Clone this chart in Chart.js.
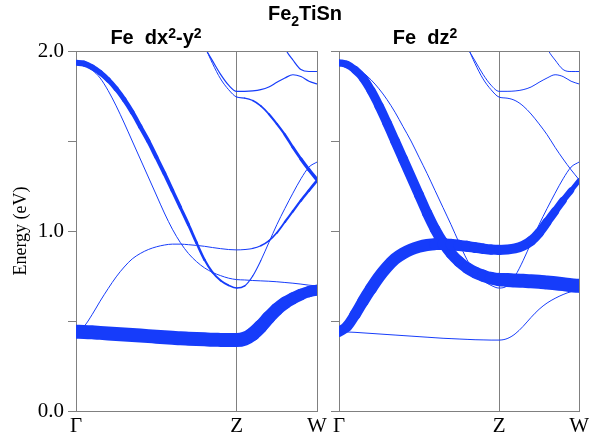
<!DOCTYPE html>
<html><head><meta charset="utf-8">
<script src="https://cdn.jsdelivr.net/npm/chart.js@4.4.1/dist/chart.umd.min.js"></script>
<style>
html,body{margin:0;padding:0;background:#fff;}
#wrap{position:relative;width:592px;height:437px;overflow:hidden;background:#fff;}
.t{position:absolute;font-family:'Liberation Sans',Arial,sans-serif;font-weight:bold;color:#000;text-align:center;white-space:pre;line-height:20px;font-size:20px;}
.sp{font-size:14px;position:relative;top:-6px;}
canvas{position:absolute;top:0;}
</style></head><body>
<div id="wrap">
<canvas id="c1" width="335" height="437" style="left:0;width:335px;height:437px"></canvas>
<canvas id="c2" width="270" height="437" style="left:322px;width:270px;height:437px"></canvas>
<div class="t" style="left:205px;width:200px;top:3px;">Fe<span style="font-size:14px;position:relative;top:6px">2</span>TiSn</div>
<div class="t" style="left:56px;width:200px;top:27px;">Fe  dx<span class="sp">2</span>-y<span class="sp">2</span></div>
<div class="t" style="left:325px;width:200px;top:27px;">Fe  dz<span class="sp">2</span></div>
</div>
<script>
// k-path positions: Γ = 0, Z = 1, W = 1.5
const kTicks = [0, 1, 1.5];
const kLabels = ['Γ', 'Z', 'W'];
const yTicksShown = [0, 1, 2];

const kGrid = [0,0.05,0.1,0.15,0.2,0.25,0.3,0.35,0.4,0.45,0.5,0.55,0.6,0.65,0.7,0.75,0.8,0.85,0.9,0.95,1.0,1.05,1.1,1.15,1.2,1.25,1.3,1.35,1.4,1.45,1.5];
const kUpper = [0.8,0.85,0.9,0.95,1.0,1.05,1.1,1.15,1.2,1.25,1.3,1.35,1.4,1.45,1.5];
const kTop = [1.28,1.31,1.35,1.4,1.45,1.5];

// band energies (eV)
const band1 = [0.44,0.439,0.437,0.434,0.431,0.428,0.425,0.422,0.419,0.416,0.413,0.41,0.407,0.404,0.402,0.4,0.398,0.396,0.395,0.394,0.394,0.402,0.428,0.47,0.52,0.565,0.60,0.626,0.647,0.663,0.672];
const band2 = [0.44,0.47,0.535,0.61,0.68,0.745,0.80,0.845,0.875,0.897,0.912,0.922,0.927,0.927,0.924,0.92,0.915,0.908,0.902,0.897,0.895,0.897,0.903,0.918,0.945,0.99,1.05,1.11,1.17,1.225,1.28];
const band3 = [1.935,1.93,1.91,1.88,1.84,1.79,1.73,1.66,1.58,1.50,1.41,1.32,1.225,1.13,1.035,0.935,0.84,0.77,0.725,0.698,0.683,0.695,0.75,0.835,0.935,1.035,1.125,1.21,1.29,1.355,1.383];
const band4 = [1.935,1.925,1.895,1.85,1.78,1.695,1.60,1.50,1.40,1.30,1.20,1.10,1.01,0.935,0.875,0.83,0.795,0.77,0.752,0.738,0.73,0.728,0.725,0.723,0.721,0.718,0.714,0.71,0.705,0.699,0.695];
const band5 = [2.03,1.93,1.845,1.785,1.744,1.738,1.725,1.695,1.65,1.595,1.535,1.465,1.40,1.34,1.285];
const band6 = [2.02,1.945,1.87,1.81,1.776,1.776,1.778,1.785,1.80,1.826,1.85,1.868,1.858,1.832,1.817];
const band7 = [2.06,2.0,1.95,1.897,1.886,1.886];

// fat-band weights (line width, px) — Fe dx2-y2 panel
const wL1 = [14,14,14,14,14,14,14,14,14,14,14,14,14,14,14,14,14,14,14,14,14,14,14,13.5,13,13,12.5,12,11.5,11,11];
const wL2 = [1,1,1,1,1,1,1,1,1,1,1,1,1,1,1,1,1,1,1,1,1,1,1.2,1.4,1.6,1.8,2,2.2,2.4,2.6,2.8];
const wL3 = [6,6,5.8,5.5,5.2,5,4.8,4.6,4.4,4.2,4,3.8,3.6,3.3,3,2.7,2.3,2,1.8,1.6,1.5,1.3,1.1,1,1,1,1,1,1,1,1];
const wL4 = [1,1,1,1,1,1,1,1,1,1,1,1,1,1,1,1,1,1,1,1,1,1,1,1,1,1,1,1,1,1,1];
const wL5 = [1,1,1,1,1,1.2,1.4,1.6,1.9,2.2,2.5,2.8,3.1,3.4,3.6];
const wL6 = [1.2,1.2,1.2,1.2,1.2,1.2,1.2,1.2,1.2,1.2,1.2,1.2,1.2,1.2,1.2];
const wL7 = [1.2,1.2,1.2,1.2,1.2,1.2];

// fat-band weights — Fe dz2 panel
const wR1 = [1,1,1,1,1,1,1,1,1,1,1,1,1,1,1,1,1,1,1,1,1,1,1,1,1,1,1,1,1,1,1];
const wR2 = [10,10.5,11,11.5,12,12,12,12,12,12,12,12,12,11.8,11.5,11.2,11,10.7,10.5,10.2,10,10,10,10,10,9.5,9,8,7,5.5,4];
const wR3 = [1,1,1,1,1,1,1,1,1,1,1,1,1,1,1,1,1,1,1,1,1,1,1,1,1,1,1,1,1,1,1];
const wR4 = [7,7.5,8,8.5,9,9.2,9.5,9.7,10,10,10,10.2,10.5,10.8,11,11.2,11.5,11.8,12,12.5,13,14,14,14,14,14,14,14,14,14,14];
const wR5 = [1,1,1,1,1,1,1,1,1,1,1,1,1,1,1];
const wR6 = [1,1,1,1,1,1,1,1,1,1,1,1,1,1,1];
const wR7 = [1,1,1,1,1,1];

const BLUE = 'rgb(22,60,250)';
const GRAY = '#808080';

function bandSet(ks, es, ws) {
  return {
    data: ks.map((k, i) => ({x: k, y: es[i]})),
    borderColor: BLUE,
    borderWidth: 1,
    pointRadius: 0,
    pointHoverRadius: 0,
    cubicInterpolationMode: 'monotone',
    borderCapStyle: 'round',
    borderJoinStyle: 'round',
    fill: false,
    clip: 0,
    segment: { borderWidth: c => (ws[c.p0DataIndex] + ws[c.p1DataIndex]) / 2 }
  };
}

const framePlugin = {
  id: 'frame',
  afterDraw(chart) {
    const {ctx, chartArea: a} = chart;
    ctx.save();
    ctx.strokeStyle = GRAY;
    ctx.lineWidth = 1;
    ctx.beginPath();
    const t = Math.round(a.top) + 0.5;
    ctx.moveTo(Math.round(a.left), t);
    ctx.lineTo(Math.round(a.right) + 1, t);
    ctx.stroke();
    ctx.restore();
  }
};

function makeChart(id, datasets, opts) {
  return new Chart(document.getElementById(id), {
    type: 'line',
    data: { datasets },
    plugins: [framePlugin],
    options: {
      animation: false,
      responsive: false,
      devicePixelRatio: 1,
      events: [],
      layout: { padding: opts.padding },
      plugins: { legend: {display: false}, tooltip: {enabled: false}, title: {display: false} },
      scales: {
        x: {
          type: 'linear', min: 0, max: 1.5,
          afterBuildTicks: s => { s.ticks = kTicks.map(v => ({value: v})); },
          afterFit: s => { s.height = 26; },
          grid: { display: true, drawOnChartArea: true, drawTicks: false, color: GRAY, lineWidth: 1 },
          border: { display: true, color: GRAY, width: 1 },
          ticks: {
            autoSkip: false, maxRotation: 0, padding: 3, color: '#000',
            font: { family: "'Liberation Serif','Times New Roman',serif", size: 21 },
            callback: v => kLabels[kTicks.indexOf(v)]
          }
        },
        y: {
          type: 'linear', min: 0, max: 2,
          afterFit: s => { s.width = opts.yWidth; },
          grid: { display: true, drawOnChartArea: false, drawTicks: true, tickLength: 8, color: GRAY, lineWidth: 1 },
          border: { display: true, color: GRAY, width: 1 },
          title: opts.yTitle ? {
            display: true, text: 'Energy (eV)', color: '#000',
            font: { family: "'Liberation Serif','Times New Roman',serif", size: 18 },
            padding: { top: 10, bottom: 0 }
          } : { display: false },
          ticks: {
            stepSize: 0.5, padding: 4, color: '#000',
            font: { family: "'Liberation Serif','Times New Roman',serif", size: 21 },
            callback: v => (opts.yLabels && yTicksShown.includes(v)) ? v.toFixed(1) : ''
          }
        }
      }
    }
  });
}

makeChart('c1', [
  bandSet(kGrid, band1, wL1),
  bandSet(kGrid, band2, wL2),
  bandSet(kGrid, band3, wL3),
  bandSet(kGrid, band4, wL4),
  bandSet(kUpper, band5, wL5),
  bandSet(kUpper, band6, wL6),
  bandSet(kTop, band7, wL7)
], { padding: {left: 0, top: 51, right: 18, bottom: 0}, yWidth: 76, yTitle: true, yLabels: true });

makeChart('c2', [
  bandSet(kGrid, band1, wR1),
  bandSet(kGrid, band2, wR2),
  bandSet(kGrid, band3, wR3),
  bandSet(kGrid, band4, wR4),
  bandSet(kUpper, band5, wR5),
  bandSet(kUpper, band6, wR6),
  bandSet(kTop, band7, wR7)
], { padding: {left: 0, top: 51, right: 12, bottom: 0}, yWidth: 17, yTitle: false, yLabels: false });
</script>
</body></html>
